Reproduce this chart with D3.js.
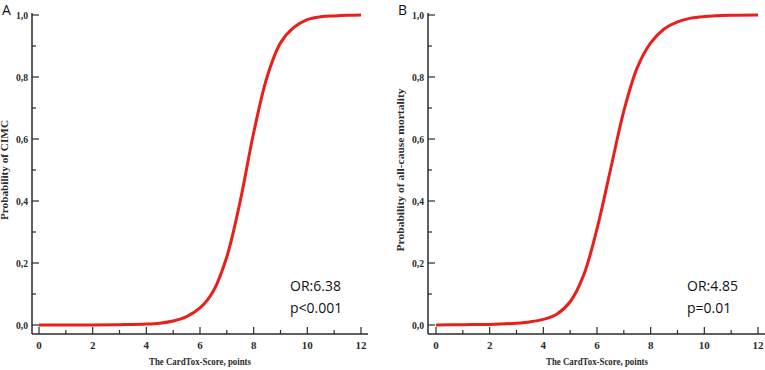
<!DOCTYPE html>
<html>
<head>
<meta charset="utf-8">
<script src="https://cdn.jsdelivr.net/npm/d3@7"></script>
<style>
  body { margin: 0; background: #fff; }
  svg { display: block; }
</style>
</head>
<body>
<div id="chart"></div>
<script>
// values
const scoreA = [0, 1, 2, 3, 4, 4.5, 5, 5.5, 6, 6.5, 7, 7.5, 8, 8.5, 9, 9.5, 10, 10.5, 11, 11.5, 12];
const probA  = [0, 0, 0, 0.001, 0.003, 0.006, 0.013, 0.027, 0.055, 0.11, 0.22, 0.40, 0.62, 0.80, 0.91, 0.96, 0.985, 0.994, 0.997, 0.999, 1.0];

const scoreB = [0, 1, 2, 3, 3.5, 4, 4.5, 5, 5.5, 6, 6.5, 7, 7.5, 8, 8.5, 9, 9.5, 10, 11, 12];
const probB  = [0, 0.001, 0.002, 0.006, 0.010, 0.018, 0.035, 0.075, 0.16, 0.31, 0.50, 0.69, 0.83, 0.91, 0.955, 0.978, 0.99, 0.995, 0.999, 1.0];

const yTicks = [0, 0.2, 0.4, 0.6, 0.8, 1.0];
const xTicks = [0, 2, 4, 6, 8, 10, 12];
const xTitle = "The CardTox-Score, points";

const panels = [
  {letter: "A", yTitle: "Probability of CIMC", titleLen: 100, score: scoreA, prob: probA, stats: ["OR:6.38", "p<0.001"],
   left: 32, x0: 39, x1: 361, axisEnd: 368, statX: 290},
  {letter: "B", yTitle: "Probability of all-cause mortality", titleLen: 163, score: scoreB, prob: probB, stats: ["OR:4.85", "p=0.01"],
   left: 428, x0: 436, x1: 758, axisEnd: 765, statX: 687}
];

const W = 765, H = 370;
const yTop = 15, yBot = 325, axisY = 334;
const ink = "#2b2b2b";
const serif = "'Liberation Serif', 'Times New Roman', serif";

const svg = d3.select("#chart").append("svg")
  .attr("width", W).attr("height", H);

panels.forEach(p => {
  const g = svg.append("g");
  const x = d3.scaleLinear().domain([0, 12]).range([p.x0, p.x1]);
  const y = d3.scaleLinear().domain([0, 1]).range([yBot, yTop]);

  // y axis (ticks point inward)
  g.append("line")
    .attr("x1", p.left).attr("x2", p.left)
    .attr("y1", yTop - 2).attr("y2", axisY)
    .attr("stroke", ink).attr("stroke-width", 1.5);
  d3.range(0, 11).forEach(i => {
    const v = i / 10;
    const major = i % 2 === 0;
    g.append("line")
      .attr("x1", p.left).attr("x2", p.left + (major ? 7 : 4))
      .attr("y1", y(v)).attr("y2", y(v))
      .attr("stroke", ink).attr("stroke-width", 1.2);
  });
  yTicks.forEach(v => {
    g.append("text")
      .attr("x", p.left - 4).attr("y", y(v) + 4)
      .attr("text-anchor", "end")
      .attr("font-family", serif).attr("font-weight", "bold")
      .attr("font-size", "11px").attr("fill", ink)
      .attr("transform", `translate(${p.left - 4},0)scale(0.88,1)translate(${-(p.left - 4)},0)`)
      .text(d3.format(".1f")(v).replace(".", ","));
  });

  // x axis (ticks point up)
  g.append("line")
    .attr("x1", p.left).attr("x2", p.axisEnd)
    .attr("y1", axisY).attr("y2", axisY)
    .attr("stroke", ink).attr("stroke-width", 1.5);
  d3.range(0, 13).forEach(v => {
    const major = v % 2 === 0;
    g.append("line")
      .attr("x1", x(v)).attr("x2", x(v))
      .attr("y1", axisY).attr("y2", axisY - (major ? 7 : 4))
      .attr("stroke", ink).attr("stroke-width", 1.2);
  });
  xTicks.forEach(v => {
    g.append("text")
      .attr("x", x(v)).attr("y", 349)
      .attr("text-anchor", "middle")
      .attr("font-family", serif).attr("font-weight", "bold")
      .attr("font-size", "11px").attr("fill", ink)
      .text(v);
  });

  // axis titles
  g.append("text")
    .attr("x", (p.x0 + p.x1) / 2 - 51).attr("y", 365)
    .attr("font-family", serif).attr("font-weight", "bold")
    .attr("font-size", "10.5px").attr("fill", ink)
    .attr("textLength", 102).attr("lengthAdjust", "spacingAndGlyphs")
    .text(xTitle);
  g.append("text")
    .attr("transform", `translate(${p.left - 24},${170 + p.titleLen / 2})rotate(-90)`)
    .attr("font-family", serif).attr("font-weight", "bold")
    .attr("font-size", "10.5px").attr("fill", ink)
    .attr("textLength", p.titleLen).attr("lengthAdjust", "spacingAndGlyphs")
    .text(p.yTitle);

  // curve
  const line = d3.line()
    .x((d, i) => x(p.score[i]))
    .y(d => y(d))
    .curve(d3.curveCatmullRom.alpha(0.5));
  g.append("path")
    .datum(p.prob)
    .attr("fill", "none")
    .attr("stroke", "#e8201c")
    .attr("stroke-width", 3)
    .attr("d", line);

  // panel letter
  g.append("text")
    .attr("x", p.left - 30).attr("y", 15)
    .attr("font-family", "'Open Sans', sans-serif")
    .attr("font-size", "14px").attr("fill", "#111")
    .text(p.letter);

  // stats
  p.stats.forEach((s, i) => {
    g.append("text")
      .attr("x", p.statX).attr("y", 291 + i * 22)
      .attr("font-family", "'Open Sans', sans-serif")
      .attr("font-size", "14px").attr("fill", "#111")
      .text(s);
  });
});
</script>
</body>
</html>
